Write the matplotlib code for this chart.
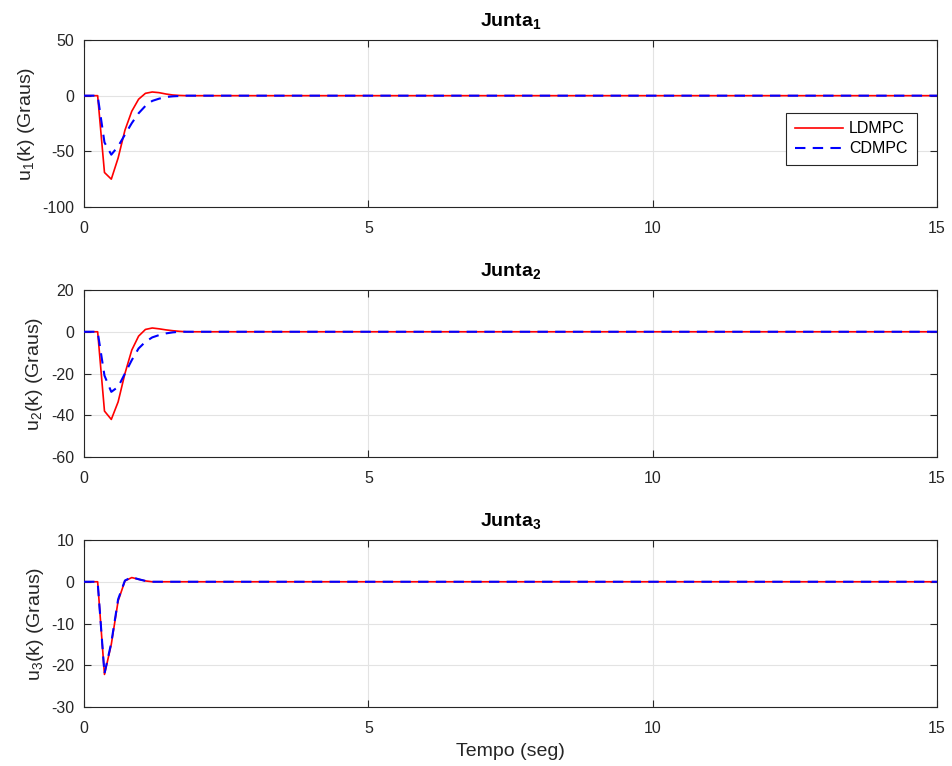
import numpy as np
import matplotlib
matplotlib.use("Agg")
import matplotlib.pyplot as plt

plt.rcParams['font.family'] = ['Liberation Sans', 'DejaVu Sans']
plt.rcParams['mathtext.fontset'] = 'custom'
plt.rcParams['mathtext.rm'] = 'Liberation Sans'
plt.rcParams['mathtext.it'] = 'Liberation Sans:italic'
plt.rcParams['mathtext.bf'] = 'Liberation Sans:bold'
plt.rcParams['axes.unicode_minus'] = False

# sample period and horizon
t_step = 0.12
t_end = 15.0

# transient values (start at t=0), rest of horizon is zero
u1_ldmpc = [0, 0, 0, -69, -75, -56, -31, -14, -3.2, 2.1, 3.3, 2.7, 1.5, 0.6, 0.2]
u1_cdmpc = [0, 0, 0, -42, -53, -45.5, -35, -24.7, -15.8, -9.2, -4.7, -2.7, -1.2, -0.6, -0.3]
u2_ldmpc = [0, 0, 0, -38, -42, -33.6, -20, -8.8, -2.1, 1.1, 1.8, 1.4, 0.9, 0.5, 0.2]
u2_cdmpc = [0, 0, 0, -21, -28.8, -26.4, -20, -13.6, -8, -4.8, -2.7, -1.6, -0.8, -0.3, 0]
u3_ldmpc = [0, 0, 0, -22.2, -15, -4.6, 0.2, 1.0, 0.6, 0.2, 0, 0, 0, 0, 0]
u3_cdmpc = [0, 0, 0, -22.0, -14.6, -4.2, 0.3, 1.1, 0.6, 0.2, 0, 0, 0, 0, 0]

titles = ["Junta$_\\mathbf{1}$", "Junta$_\\mathbf{2}$", "Junta$_\\mathbf{3}$"]
ylabels = ["u$_1$(k) (Graus)", "u$_2$(k) (Graus)", "u$_3$(k) (Graus)"]
ylims = [(-100, 50), (-60, 20), (-30, 10)]
yticks = [[-100, -50, 0, 50], [-60, -40, -20, 0, 20], [-30, -20, -10, 0, 10]]
xticks = [0, 5, 10, 15]

t = np.arange(0, t_end + 1e-9, t_step)


def pad(vals):
    out = np.zeros_like(t)
    out[:len(vals)] = vals
    return out


series = [(u1_ldmpc, u1_cdmpc), (u2_ldmpc, u2_cdmpc), (u3_ldmpc, u3_cdmpc)]

fig = plt.figure(figsize=(9.52, 7.66), dpi=100)
left, right = 84 / 952, 937 / 952
tops = [40, 290, 540]
bots = [207, 457, 707]
axes = []
for i in range(3):
    b = 1 - bots[i] / 766
    h = (bots[i] - tops[i]) / 766
    axes.append(fig.add_axes([left, b, right - left, h]))

for i, ax in enumerate(axes):
    l, c = series[i]
    ax.plot(t, pad(l), color='#ff0000', lw=1.2, label='LDMPC', zorder=3)
    ax.plot(t, pad(c), color='#0000ff', lw=1.5, ls=(0, (5, 3.5)), label='CDMPC', zorder=4)
    ax.set_xlim(0, 15)
    ax.set_ylim(*ylims[i])
    ax.set_xticks(xticks)
    ax.set_yticks(yticks[i])
    ax.grid(True, color='#e3e3e3', lw=0.8)
    ax.set_axisbelow(True)
    ax.tick_params(direction='in', length=5, width=0.8, labelsize=11.5, colors='#262626',
                   top=True, right=True)
    ax.tick_params(axis='x', pad=10)
    ax.tick_params(axis='y', pad=7)
    for s in ax.spines.values():
        s.set_color('#262626')
        s.set_linewidth(0.8)
    ax.set_title(titles[i], fontsize=14, fontweight='bold', pad=10)
    ax.set_ylabel(ylabels[i], fontsize=14, color='#262626', labelpad=4)

axes[2].set_xlabel("Tempo (seg)", fontsize=14, color='#262626', labelpad=5)

leg = axes[0].legend(loc='upper right', bbox_to_anchor=(0.976, 0.565), fontsize=11.5,
                     frameon=True, fancybox=False, edgecolor='#262626', framealpha=1,
                     handlelength=3.0, borderpad=0.55, labelspacing=0.3, handletextpad=0.4,
                     borderaxespad=0)
leg.get_frame().set_linewidth(0.8)

fig.savefig("out.png", dpi=100)
